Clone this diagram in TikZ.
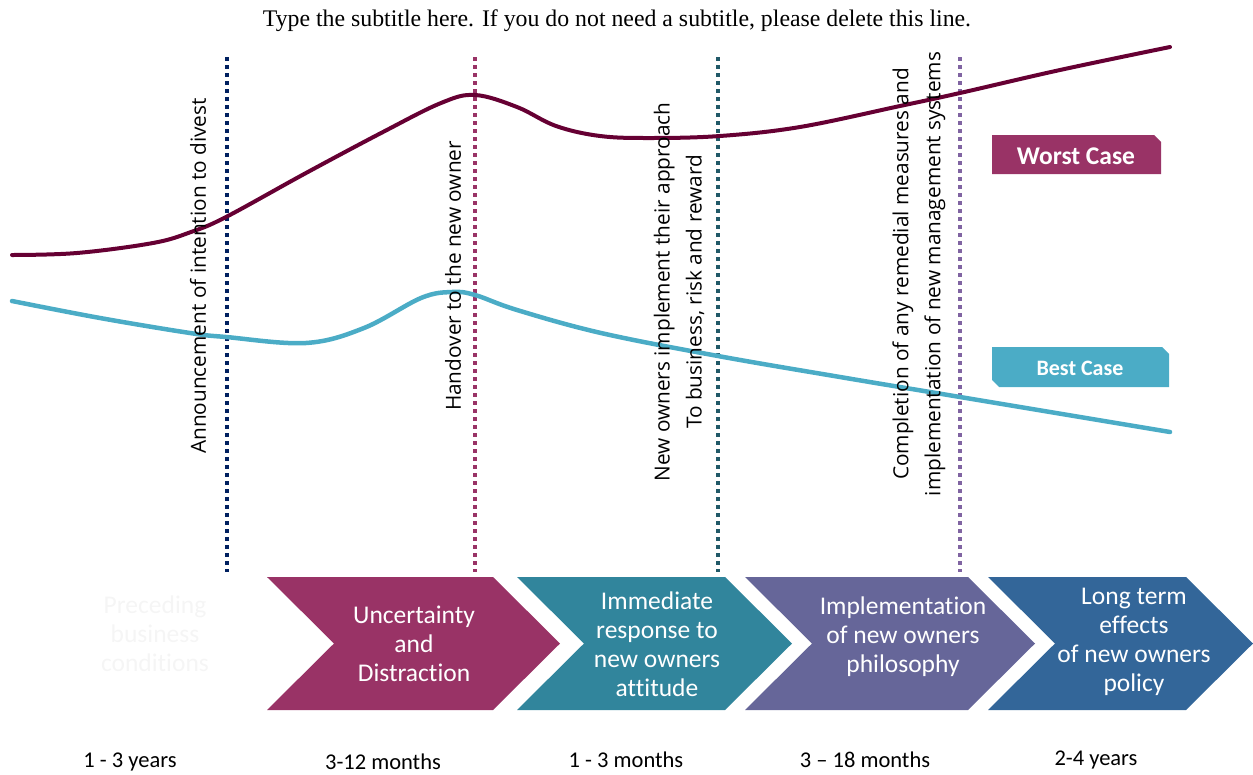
\documentclass[tikz,border=0pt]{standalone}
\usepackage{fontspec}
\setmainfont{Carlito}[Ligatures=NoCommon]
\newfontfamily\eventfont{Open Sans}
\newfontfamily\subfont{Liberation Serif}
\usepackage{tikz}
\usetikzlibrary{calc,positioning}
\definecolor{cmag}{HTML}{993366}
\definecolor{cteal}{HTML}{31859C}
\definecolor{cpurp}{HTML}{666699}
\definecolor{cblue}{HTML}{336699}
\definecolor{cnavy}{HTML}{002060}
\definecolor{cdteal}{HTML}{215968}
\definecolor{clilac}{HTML}{8064A2}
\definecolor{cworst}{HTML}{660033}
\definecolor{cbest}{HTML}{4BACC6}
\tikzset{%
	phase/.style    = {text=white, align=center, font=\fontsize{25.5}{29}\selectfont}, % chevron text
	event/.style    = {rotate=90, align=center, font=\eventfont\fontsize{20.8}{32}\selectfont}, % milestone text
	span/.style     = {font=\fontsize{22.5}{24}\selectfont}, % duration
	marker/.style   = {line width=4pt, dash pattern=on 4pt off 4pt}, % dotted milestone
	curve/.style    = {line width=4pt, line cap=round},
	legend/.style   = {text=white, font=\bfseries\fontsize{25.5}{28}\selectfont},
}
\begin{document}
\begin{tikzpicture}[x=1pt,y=-1pt]
	\useasboundingbox (0,0) rectangle (1253,774);
	\node [font=\subfont\fontsize{23.8}{26}\selectfont] (sub) at (617,21) {Type the subtitle here. If you do not need a subtitle, please delete this line.};
	
	% chevrons
	\foreach \l/\t/\c in {267/560/cmag, 517/792/cteal, 745/1035/cpurp, 988/1253/cblue}
		\fill[\c] (\l,577) -- ({\t-67},577) -- (\t,643.5) -- ({\t-67},710) -- (\l,710) -- ({\l+67},643.5) -- cycle;
	\node [phase,text=black!4] (p0) at (155,634) {Preceding\\business\\conditions};
	\node [phase] (p1) at (414,644) {Uncertainty\\and\\Distraction};
	\node [phase] (p2) at (657,644) {Immediate\\response to\\new owners\\attitude};
	\node [phase] (p3) at (903,637) {Implementation\\of new owners\\philosophy};
	\node [phase] (p4) at (1134,642) {Long term\\effects\\of new owners\\policy};
	
	\node [span] (d0) at (130,762) {1 - 3 years};
	\node [span] (d1) at (383,762) {3-12 months};
	\node [span] (d2) at (626,760) {1 - 3 months};
	\node [span] (d3) at (865,760) {3 -- 18 months};
	\node [span] (d4) at (1096,760) {2-4 years};
	
	% milestones
	\coordinate (m1t) at (227,57);  \coordinate (m1b) at (227,572);
	\coordinate (m2t) at (475,57);  \coordinate (m2b) at (475,572);
	\coordinate (m3t) at (718,57);  \coordinate (m3b) at (718,572);
	\coordinate (m4t) at (960,57);  \coordinate (m4b) at (960,572);
	\draw[marker,cnavy] (m1t) -- (m1b);
	\draw[marker,cmag] (m2t) -- (m2b);
	\draw[marker,cdteal] (m3t) -- (m3b);
	\draw[marker,clilac] (m4t) -- (m4b);
	
	\draw[curve,cworst] plot[smooth,tension=0.6] coordinates {(12,255) (77,253) (153,243) (191,232) (226,217) (306,173) (383,132) (441,103) (475,95) (517,107) (556,126) (600,136) (650,138) (720,136) (800,127) (900,106) (960,93) (1060,70) (1170,47)};
	\draw[curve,cbest,line width=4.5pt] plot[smooth,tension=0.6] coordinates {(12,301) (100,318) (190,333) (226,337) (306,343) (364,328) (421,298) (452,292) (475,295) (517,310) (601,333) (718,356) (840,377) (960,397) (1170,432)};
	
	\node [event] (e1) at (198,276) {Announcement of intention to divest};
	\node [event] (e2) at (453,276) {Handover to the new owner};
	\node [event] (e3) at (679,292) {New owners implement their approach\\To business, risk and reward};
	\node [event] (e4) at (919,274) {Completion of any remedial measures and\\implementation of new management systems};
	
	% legend
	\fill[cmag] (992,135) -- (1154,135) -- (1161,142) -- (1161,174) -- (992,174) -- cycle;
	\node [legend] (worst) at (1076,156) {Worst Case};
	\fill[cbest] (992,347) -- (1162,347) -- (1169,354) -- (1169,387) -- (999,387) -- (992,380) -- cycle;
	\node [legend,font=\bfseries\fontsize{22}{24}\selectfont] (best) at (1080,368) {Best Case};
\end{tikzpicture}
\end{document}
